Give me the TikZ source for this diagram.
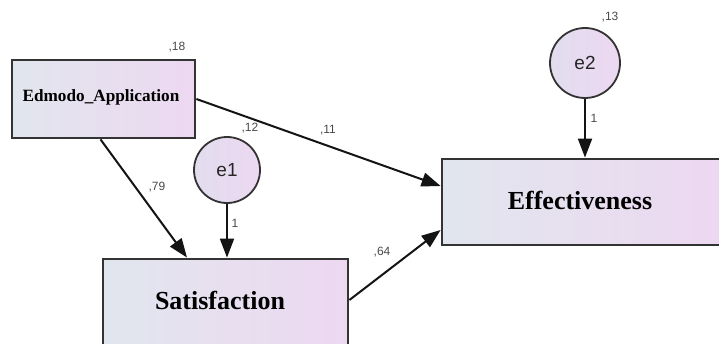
\documentclass[tikz,border=0pt]{standalone}
\usepackage{fontspec}
\setmainfont{Liberation Serif}
\newfontfamily\arialf{Liberation Sans}
\usetikzlibrary{arrows.meta}
\definecolor{boxL}{HTML}{E1E6EE}
\definecolor{boxR}{HTML}{EDD8F1}
\definecolor{circL}{HTML}{E2DDEE}
\definecolor{circR}{HTML}{ECD8F1}
\definecolor{edgeC}{HTML}{333333}
\definecolor{numC}{HTML}{4A4A4A}
\tikzset{
  obsbox/.style={draw=edgeC, line width=2.8pt, rectangle, inner sep=0pt,
    left color=boxL, right color=boxR, font=\bfseries},
  errc/.style={draw=edgeC, line width=1.8pt, circle, inner sep=0pt,
    minimum size=67pt, left color=circL, right color=circR,
    font=\arialf\fontsize{19}{19}\selectfont, text=black!85},
  coef/.style={font=\arialf\fontsize{12}{12}\selectfont, text=numC, inner sep=0pt},
  path/.style={line width=2pt, black!92, -{Triangle[length=19pt,width=14pt]}}
}
\begin{document}
\begin{tikzpicture}[x=1pt,y=1pt]
\useasboundingbox (0,0) rectangle (719,343);
\clip (0,0) rectangle (719,343);
\fill[white] (0,0) rectangle (719,343);
% boxes
\node[obsbox, minimum width=183pt, minimum height=78pt] (edm) at (103.5,244) {};
\node[font=\bfseries\fontsize{17.2}{17}\selectfont, inner sep=0pt] (edml) at (101,246) {Edmodo\_Application};
\node[obsbox, minimum width=245pt, minimum height=90pt] (sat) at (225.5,39) {};
\node[font=\bfseries\fontsize{26}{26}\selectfont, inner sep=0pt] (satl) at (220,43) {Satisfaction};
\node[obsbox, minimum width=282pt, minimum height=86pt] (eff) at (583,141) {};
\node[font=\bfseries\fontsize{26}{26}\selectfont, inner sep=0pt] (effl) at (580,143) {Effectiveness};
% error circles
\node[errc, minimum size=66pt] (e1) at (227,173) {e1};
\node[errc, minimum size=70pt] (e2) at (585,280) {e2};
% paths
\draw[path] (edm.east) -- ([yshift=16pt]eff.west);
\draw[path] ([xshift=-3pt]edm.south) -- ([xshift=-38.5pt]sat.north);
\draw[path] (e1.south) -- (e1.south |- sat.north);
\draw[path] ([yshift=4pt]sat.east) -- ([yshift=-28pt]eff.west);
\draw[path] (e2.south) -- (e2.south |- eff.north);
% coefficients
\node[coef] (c18) at (177,296) {,18};
\node[coef] (c12) at (250,215) {,12};
\node[coef] (c11) at (328,213) {,11};
\node[coef] (c79) at (157,156) {,79};
\node[coef] (c64) at (382,91) {,64};
\node[coef] (c13) at (610,326) {,13};
\node[coef] (c1a) at (235,120) {1};
\node[coef] (c1b) at (594,225) {1};
\end{tikzpicture}
\end{document}
